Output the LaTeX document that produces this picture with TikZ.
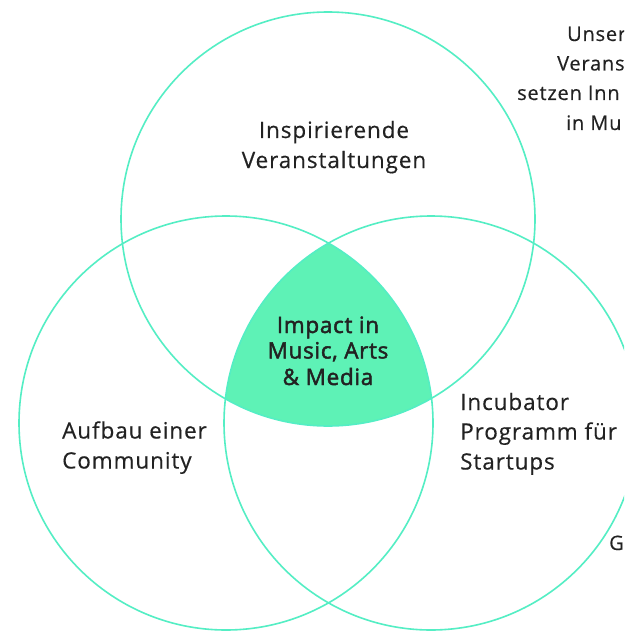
\documentclass[tikz,border=0pt]{standalone}
\usepackage{fontspec}
\setmainfont{Open Sans}[LetterSpace=4,FakeBold=0.4]
\newfontfamily\impactfont{Open Sans}[LetterSpace=3,FakeBold=2]
\definecolor{ringc}{RGB}{84,238,196}
\definecolor{fillc}{RGB}{94,242,182}
\definecolor{txt}{RGB}{34,34,34}
\tikzset{
  ring/.style={draw=ringc, line width=1.6pt},
  lbl/.style={inner sep=0pt, text=txt, font=\fontsize{22.5}{27}\selectfont},
  ilbl/.style={inner sep=0pt, text=txt, font=\impactfont\fontsize{22.5}{27}\selectfont},
  slbl/.style={inner sep=0pt, text=txt, font=\fontsize{20}{24}\selectfont, anchor=base west},
}
\begin{document}
\begin{tikzpicture}[x=1pt,y=-1pt]
\useasboundingbox (0,0) rectangle (624,631);
\fill[white] (0,0) rectangle (624,631);
\clip (0,0) rectangle (624,631);
\coordinate (cT) at (328,219);
\coordinate (cL) at (226,423);
\coordinate (cR) at (431,423);
\begin{scope}
  \clip (cT) circle[radius=207pt];
  \clip (cL) circle[radius=207pt];
  \fill[fillc] (cR) circle[radius=207pt];
\end{scope}
\draw[ring] (cT) circle[radius=207pt];
\draw[ring] (cL) circle[radius=207pt];
\draw[ring] (cR) circle[radius=207pt];
% top circle
\node[lbl, anchor=base] (insp1) at (334,138) {Inspirierende};
\node[lbl, anchor=base] (insp2) at (334,168) {Veranstaltungen};
% centre
\node[ilbl, anchor=base] (imp1) at (328,333) {Impact in};
\node[ilbl, anchor=base] (imp2) at (328,358.5) {Music, Arts};
\node[ilbl, anchor=base] (imp3) at (328,385) {\& Media};
% left
\node[lbl, anchor=base west] (auf1) at (62,438.5) {Aufbau einer};
\node[lbl, anchor=base west] (auf2) at (62,468.5) {Community};
% right
\node[lbl, anchor=base west] (inc1) at (460,410) {Incubator};
\node[lbl, anchor=base west] (inc2) at (460,439.5) {Programm für};
\node[lbl, anchor=base west] (inc3) at (460,469.5) {Startups};
% cut-off text, top right
\node[slbl] (s1) at (567,41) {Unser};
\node[slbl] (s2) at (557,70.5) {Verans};
\node[slbl] (s3) at (517,100) {setzen Inn};
\node[slbl] (s4) at (566,130) {in Mu};
\node[slbl] (s5) at (609,550) {G};
\end{tikzpicture}
\end{document}
